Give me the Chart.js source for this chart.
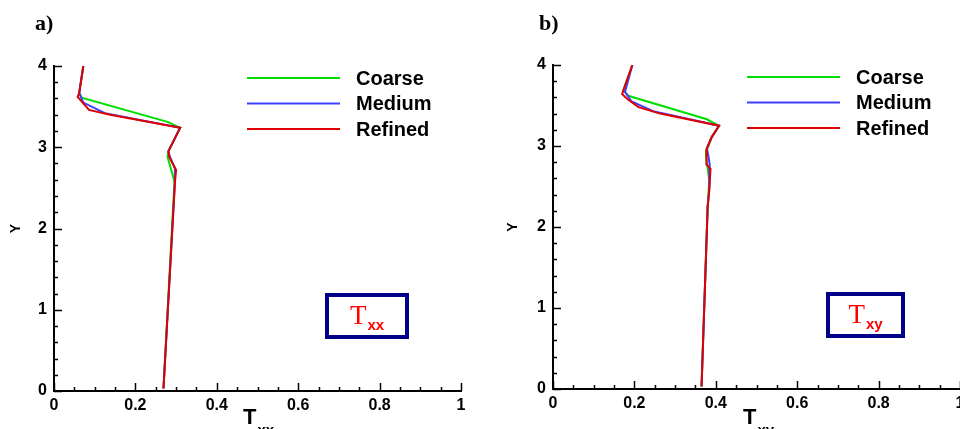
<!DOCTYPE html>
<html>
<head>
<meta charset="utf-8">
<script src="https://cdn.jsdelivr.net/npm/chart.js@4.4.0/dist/chart.umd.min.js"></script>
<style>
  html, body { margin: 0; padding: 0; background: #fff; }
  #wrap { position: relative; width: 960px; height: 429px; overflow: hidden; }
  canvas { position: absolute; top: 0; }
</style>
</head>
<body>
<div id="wrap">
  <canvas id="cA" width="480" height="429" style="left:0"></canvas>
  <canvas id="cB" width="480" height="429" style="left:480px"></canvas>
</div>
<script>
// ---------- DATA ----------
const seriesNames = ['Coarse', 'Medium', 'Refined'];
const xTickLabels = ['0', '0.2', '0.4', '0.6', '0.8', '1'];
const yTickLabels = ['0', '1', '2', '3', '4'];

// Panel a) Txx
const txxCoarseX  = [0.072, 0.062, 0.068, 0.281, 0.297, 0.310, 0.281, 0.279, 0.296, 0.269];
const txxCoarseY  = [4.00, 3.67, 3.61, 3.31, 3.27, 3.24, 2.95, 2.88, 2.58, 0.03];
const txxMediumX  = [0.072, 0.062, 0.072, 0.125, 0.310, 0.281, 0.285, 0.297, 0.297, 0.269];
const txxMediumY  = [4.00, 3.67, 3.55, 3.42, 3.24, 2.95, 2.88, 2.74, 2.56, 0.03];
const txxRefinedX = [0.072, 0.062, 0.058, 0.086, 0.138, 0.310, 0.281, 0.283, 0.300, 0.297, 0.269];
const txxRefinedY = [4.00, 3.67, 3.62, 3.46, 3.40, 3.24, 2.95, 2.88, 2.72, 2.56, 0.03];

// Panel b) Txy
const txyCoarseX  = [0.195, 0.173, 0.185, 0.378, 0.408, 0.390, 0.378, 0.376, 0.384, 0.380, 0.365];
const txyCoarseY  = [4.00, 3.69, 3.62, 3.33, 3.25, 3.11, 2.95, 2.87, 2.58, 2.25, 0.03];
const txyMediumX  = [0.195, 0.177, 0.193, 0.246, 0.408, 0.390, 0.378, 0.382, 0.385, 0.384, 0.380, 0.365];
const txyMediumY  = [4.00, 3.67, 3.55, 3.43, 3.25, 3.11, 2.97, 2.87, 2.77, 2.46, 2.25, 0.03];
const txyRefinedX = [0.195, 0.173, 0.170, 0.185, 0.210, 0.263, 0.408, 0.390, 0.378, 0.376, 0.378, 0.387, 0.384, 0.380, 0.365];
const txyRefinedY = [4.00, 3.69, 3.64, 3.57, 3.48, 3.40, 3.25, 3.11, 2.97, 2.91, 2.77, 2.72, 2.46, 2.25, 0.03];

// ---------- STYLE ----------
const colors = ['#00dd00', '#3f3fff', '#e00000'];
const SANS = '"Liberation Sans", Arial, sans-serif';
const SERIF = '"Liberation Serif", "Times New Roman", serif';

function pts(xs, ys) { return xs.map((x, i) => ({ x: x, y: ys[i] })); }

const decorPlugin = {
  id: 'decor',
  afterDraw(chart, args, o) {
    const ctx = chart.ctx;
    const xs = chart.scales.x, ys = chart.scales.y;
    const ca = chart.chartArea;
    ctx.save();
    ctx.strokeStyle = '#000';
    ctx.lineWidth = 1.5;
    // inward ticks x
    for (let v = 0; v <= 1.0001; v += 0.05) {
      const px = Math.round(xs.getPixelForValue(v)) + 0.5;
      const major = Math.abs(v / 0.2 - Math.round(v / 0.2)) < 1e-6;
      const len = major ? 8 : 4;
      ctx.beginPath(); ctx.moveTo(px, ca.bottom); ctx.lineTo(px, ca.bottom - len); ctx.stroke();
    }
    // inward ticks y
    for (let v = 0; v <= 4.0001; v += 0.2) {
      const py = Math.round(ys.getPixelForValue(v)) + 0.5;
      const major = Math.abs(v - Math.round(v)) < 1e-6;
      const len = major ? 8 : 4;
      ctx.beginPath(); ctx.moveTo(ca.left, py); ctx.lineTo(ca.left + len, py); ctx.stroke();
    }
    ctx.fillStyle = '#000';
    // panel label
    ctx.font = 'bold 22px ' + SERIF;
    ctx.textBaseline = 'alphabetic';
    ctx.textAlign = 'left';
    ctx.fillText(o.panel, o.panelX, 30);
    // Y axis title
    ctx.save();
    ctx.translate(o.yTitleX, (ca.top + ca.bottom) / 2);
    ctx.rotate(-Math.PI / 2);
    ctx.font = 'bold 14px ' + SANS;
    ctx.textAlign = 'center';
    ctx.textBaseline = 'middle';
    ctx.fillText('Y', 0, 0);
    ctx.restore();
    // X axis title T_sub
    const xt = ca.left + o.xTitleOff;
    ctx.font = 'bold 22px ' + SANS;
    ctx.textAlign = 'left';
    ctx.textBaseline = 'alphabetic';
    ctx.fillText('T', xt, 424);
    const tw = ctx.measureText('T').width;
    ctx.font = 'bold 15px ' + SANS;
    ctx.fillText(o.sub, xt + tw + 1, 435);
    // legend
    const lx0 = ca.left + o.legOff, lx1 = lx0 + 93;
    seriesNames.forEach((n, i) => {
      const ly = ca.top + 12 + i * 25.5;
      ctx.strokeStyle = colors[i];
      ctx.lineWidth = 2;
      ctx.beginPath(); ctx.moveTo(lx0, ly); ctx.lineTo(lx1, ly); ctx.stroke();
      ctx.fillStyle = '#000';
      ctx.font = 'bold 20px ' + SANS;
      ctx.textBaseline = 'middle';
      ctx.fillText(n, lx1 + 16, ly + 1);
    });
    // annotation box
    const bx = o.box[0], by = o.box[1], bw = o.box[2], bh = o.box[3];
    ctx.strokeStyle = '#000088';
    ctx.lineWidth = 4;
    ctx.strokeRect(bx, by, bw, bh);
    ctx.fillStyle = '#ff0000';
    ctx.textBaseline = 'alphabetic';
    const T = 'T';
    ctx.font = '27px ' + SERIF;
    const tW = ctx.measureText(T).width;
    ctx.font = 'bold 15px ' + SANS;
    const sW = ctx.measureText(o.sub).width;
    const tx = bx + (bw - tW - sW - 1) / 2;
    ctx.font = '27px ' + SERIF;
    ctx.fillText(T, tx, by + 29);
    ctx.font = 'bold 15px ' + SANS;
    ctx.fillText(o.sub, tx + tW + 1, by + 35);
    ctx.restore();
  }
};

function makeChart(id, data, lay, decor) {
  const ds = data.map((d, i) => ({
    label: seriesNames[i],
    data: d,
    showLine: true,
    borderColor: colors[i],
    backgroundColor: colors[i],
    borderWidth: 2,
    pointRadius: 0,
    tension: 0,
    order: 2 - i
  }));
  return new Chart(document.getElementById(id), {
    type: 'scatter',
    data: { datasets: ds },
    options: {
      responsive: false,
      animation: false,
      devicePixelRatio: 1,
      layout: { padding: { top: lay.top, right: lay.right, left: 0, bottom: 0 } },
      plugins: { legend: { display: false }, tooltip: { enabled: false }, decor: decor },
      scales: {
        x: {
          type: 'linear', min: 0, max: 1,
          grid: { display: false, drawTicks: false },
          border: { display: true, color: '#000', width: 2 },
          ticks: {
            stepSize: 0.2, padding: 5, color: '#000',
            font: { family: SANS, size: 16, weight: 'bold' },
            maxRotation: 0, autoSkip: false,
            callback: (v, i) => xTickLabels[i]
          },
          afterFit: s => { s.height = lay.xH; s.paddingLeft = 0; s.paddingRight = 0; }
        },
        y: {
          type: 'linear', min: 0, max: 4,
          grid: { display: false, drawTicks: false },
          border: { display: true, color: '#000', width: 2 },
          ticks: {
            stepSize: 1, padding: 7, color: '#000',
            font: { family: SANS, size: 16, weight: 'bold' },
            callback: (v, i) => yTickLabels[i]
          },
          afterFit: s => { s.width = lay.yW; s.paddingTop = 0; s.paddingBottom = 0; }
        }
      }
    },
    plugins: [decorPlugin]
  });
}

makeChart('cA',
  [pts(txxCoarseX, txxCoarseY), pts(txxMediumX, txxMediumY), pts(txxRefinedX, txxRefinedY)],
  { top: 66, right: 19, xH: 38, yW: 54 },
  { panel: 'a)', panelX: 35, yTitleX: 16, xTitleOff: 189, sub: 'xx', legOff: 193, box: [327, 295, 80, 42] });

makeChart('cB',
  [pts(txyCoarseX, txyCoarseY), pts(txyMediumX, txyMediumY), pts(txyRefinedX, txyRefinedY)],
  { top: 65, right: 0, xH: 40, yW: 73 },
  { panel: 'b)', panelX: 59, yTitleX: 33, xTitleOff: 190, sub: 'xy', legOff: 194, box: [348, 294, 75, 42] });
</script>
</body>
</html>
